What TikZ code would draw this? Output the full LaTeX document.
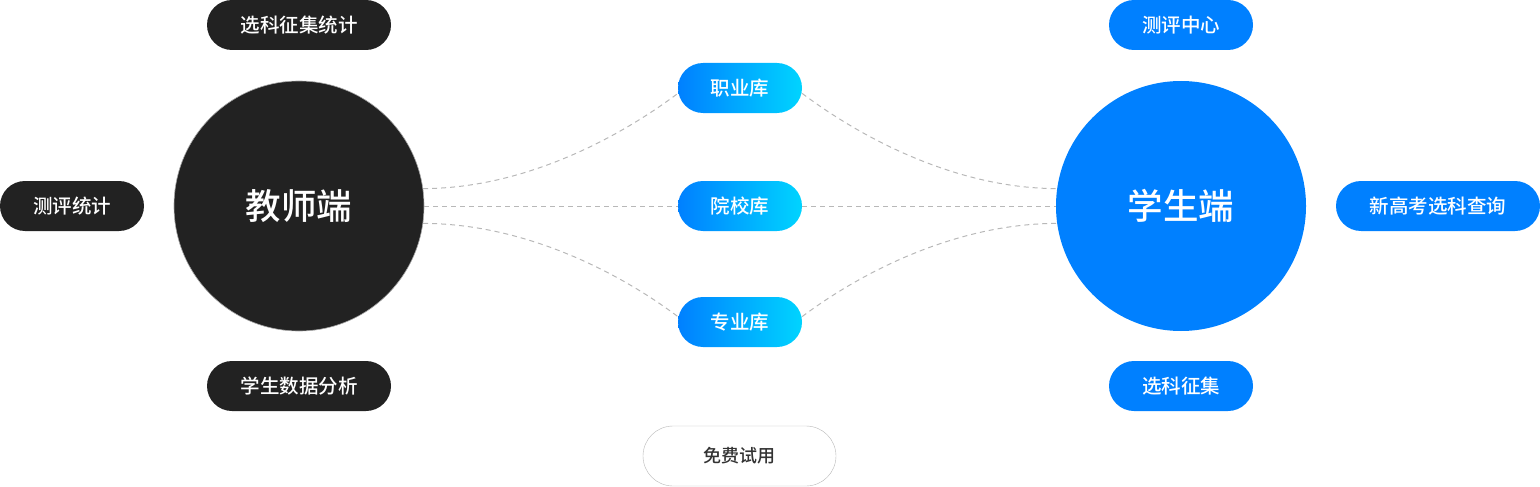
\documentclass[tikz,border=0pt]{standalone}
\usepackage{fontspec}
\setmainfont{Noto Sans CJK SC}[BoldFont={* Medium}]
\definecolor{dark}{HTML}{222222}
\definecolor{sblue}{HTML}{0080FF}
\definecolor{scyan}{HTML}{00D4FF}
\definecolor{dashgray}{HTML}{B8B8B8}
\definecolor{trial}{HTML}{333333}
\begin{document}
\begin{tikzpicture}[x=1pt, y=-1pt,
	pill/.style={rounded corners=25pt, minimum height=50pt, inner sep=0pt, text=white, font=\fontsize{19.5}{21}\selectfont\bfseries},
	hub/.style={circle, minimum size=250pt, inner sep=0pt, text=white, font=\fontsize{35.5}{38}\selectfont\bfseries},
	lib/.style={pill, minimum width=124pt, left color=sblue, right color=scyan},
	link/.style={draw=dashgray, line width=1pt, dash pattern=on 5pt off 4pt}]
	\useasboundingbox (0,0) rectangle (1540,487);

	\node[hub, fill=dark, draw=gray!70, line width=0.6pt] at (299, 206)  (t) {教师端};
	\node[hub, fill=sblue] at (1181, 206)  (s) {学生端};

	\node[pill, fill=dark, minimum width=184pt] at (299, 25)  (t1) {选科征集统计};
	\node[pill, fill=dark, minimum width=144pt] at (72, 206)  (t2) {测评统计};
	\node[pill, fill=dark, minimum width=184pt] at (299, 386)  (t3) {学生数据分析};

	\node[pill, fill=sblue, minimum width=144pt] at (1181, 25)  (s1) {测评中心};
	\node[pill, fill=sblue, minimum width=204pt] at (1438, 206)  (s2) {新高考选科查询};
	\node[pill, fill=sblue, minimum width=144pt] at (1181, 386)  (s3) {选科征集};

	\node[lib] at (740, 88)  (a) {职业库};
	\node[lib] at (740, 206)  (b) {院校库};
	\node[lib] at (740, 322)  (c) {专业库};

	\node[pill, minimum width=193pt, minimum height=60pt, rounded corners=30pt, draw=gray!55, fill=white, text=trial, font=\fontsize{18}{20}\selectfont\bfseries] at (739.5, 456)  (f) {免费试用};

	% teacher side
	\draw[link] (t.8) .. controls +(100,0) and +(-60,45) .. (a.185);
	\draw[link] (t) -- (b);
	\draw[link] (t.-8) .. controls +(100,0) and +(-60,-45) .. (c.175);
	% student side
	\draw[link] (a.-5) .. controls +(60,45) and +(-100,0) .. (s.172);
	\draw[link] (b) -- (s);
	\draw[link] (c.5) .. controls +(60,-45) and +(-100,0) .. (s.188);
\end{tikzpicture}
\end{document}
